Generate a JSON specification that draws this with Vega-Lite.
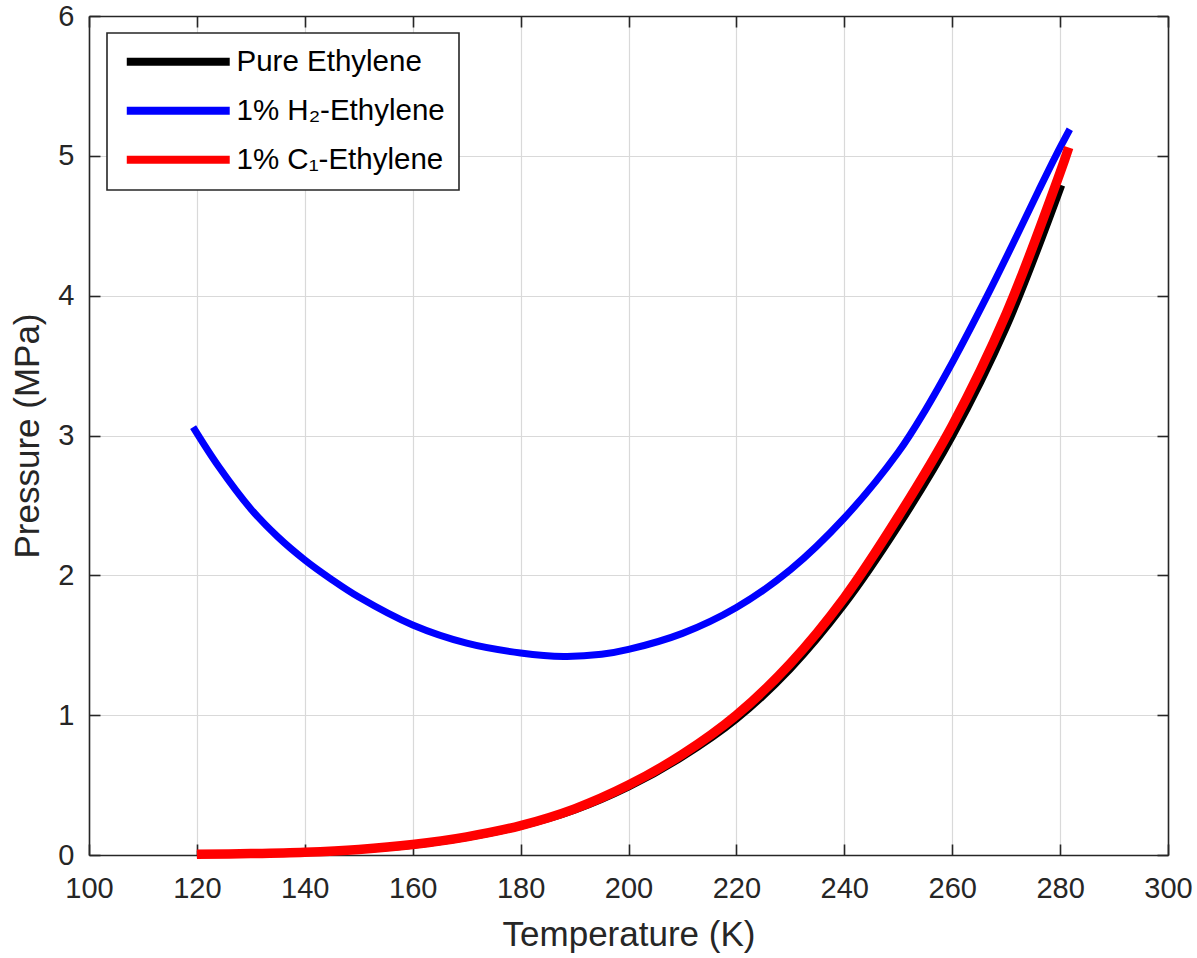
{
  "$schema": "https://vega.github.io/schema/vega-lite/v6.json",
  "width": 1079,
  "height": 839,
  "autosize": {"type": "none"},
  "padding": {"left": 89, "top": 16, "right": 29, "bottom": 103},
  "background": "white",
  "config": {
    "font": "Liberation Sans",
    "view": {"stroke": null},
    "axis": {
      "labelFont": "Liberation Sans",
      "titleFont": "Liberation Sans",
      "labelColor": "#262626",
      "titleColor": "#262626",
      "domainColor": "#262626",
      "tickColor": "#262626",
      "domainWidth": 1.6,
      "tickWidth": 1.6,
      "gridColor": "#d9d9d9",
      "gridWidth": 1.2,
      "labelFontSize": 29,
      "titleFontSize": 35,
      "titleFontWeight": "normal",
      "labelFlush": false
    }
  },
  "datasets": {
    "curves": [
      {"series": "Pure Ethylene", "T": 120, "P": 0.004},
      {"series": "Pure Ethylene", "T": 130, "P": 0.009},
      {"series": "Pure Ethylene", "T": 140, "P": 0.018},
      {"series": "Pure Ethylene", "T": 150, "P": 0.037},
      {"series": "Pure Ethylene", "T": 160, "P": 0.07},
      {"series": "Pure Ethylene", "T": 170, "P": 0.125},
      {"series": "Pure Ethylene", "T": 180, "P": 0.205},
      {"series": "Pure Ethylene", "T": 190, "P": 0.32},
      {"series": "Pure Ethylene", "T": 200, "P": 0.485},
      {"series": "Pure Ethylene", "T": 210, "P": 0.7},
      {"series": "Pure Ethylene", "T": 220, "P": 0.97},
      {"series": "Pure Ethylene", "T": 230, "P": 1.33},
      {"series": "Pure Ethylene", "T": 240, "P": 1.79},
      {"series": "Pure Ethylene", "T": 250, "P": 2.35},
      {"series": "Pure Ethylene", "T": 260, "P": 2.99},
      {"series": "Pure Ethylene", "T": 270, "P": 3.77},
      {"series": "Pure Ethylene", "T": 280.3, "P": 4.79},
      {"series": "1% H₂-Ethylene", "T": 119.3, "P": 3.06},
      {"series": "1% H₂-Ethylene", "T": 124, "P": 2.78},
      {"series": "1% H₂-Ethylene", "T": 130, "P": 2.475},
      {"series": "1% H₂-Ethylene", "T": 135, "P": 2.275},
      {"series": "1% H₂-Ethylene", "T": 140, "P": 2.11},
      {"series": "1% H₂-Ethylene", "T": 145, "P": 1.97},
      {"series": "1% H₂-Ethylene", "T": 150, "P": 1.845},
      {"series": "1% H₂-Ethylene", "T": 160, "P": 1.645},
      {"series": "1% H₂-Ethylene", "T": 170, "P": 1.515},
      {"series": "1% H₂-Ethylene", "T": 180, "P": 1.445},
      {"series": "1% H₂-Ethylene", "T": 188, "P": 1.42},
      {"series": "1% H₂-Ethylene", "T": 195, "P": 1.435},
      {"series": "1% H₂-Ethylene", "T": 200, "P": 1.47},
      {"series": "1% H₂-Ethylene", "T": 210, "P": 1.585},
      {"series": "1% H₂-Ethylene", "T": 220, "P": 1.77},
      {"series": "1% H₂-Ethylene", "T": 230, "P": 2.04},
      {"series": "1% H₂-Ethylene", "T": 240, "P": 2.41},
      {"series": "1% H₂-Ethylene", "T": 250, "P": 2.88},
      {"series": "1% H₂-Ethylene", "T": 255, "P": 3.18},
      {"series": "1% H₂-Ethylene", "T": 260, "P": 3.52},
      {"series": "1% H₂-Ethylene", "T": 266.5, "P": 4.0},
      {"series": "1% H₂-Ethylene", "T": 272, "P": 4.43},
      {"series": "1% H₂-Ethylene", "T": 276, "P": 4.75},
      {"series": "1% H₂-Ethylene", "T": 279.2, "P": 5.0},
      {"series": "1% H₂-Ethylene", "T": 281.8, "P": 5.19},
      {"series": "1% C₁-Ethylene", "T": 120, "P": 0.005},
      {"series": "1% C₁-Ethylene", "T": 130, "P": 0.01},
      {"series": "1% C₁-Ethylene", "T": 140, "P": 0.02},
      {"series": "1% C₁-Ethylene", "T": 150, "P": 0.04},
      {"series": "1% C₁-Ethylene", "T": 160, "P": 0.075},
      {"series": "1% C₁-Ethylene", "T": 170, "P": 0.13},
      {"series": "1% C₁-Ethylene", "T": 180, "P": 0.21},
      {"series": "1% C₁-Ethylene", "T": 190, "P": 0.33},
      {"series": "1% C₁-Ethylene", "T": 200, "P": 0.5},
      {"series": "1% C₁-Ethylene", "T": 210, "P": 0.72},
      {"series": "1% C₁-Ethylene", "T": 220, "P": 1.0},
      {"series": "1% C₁-Ethylene", "T": 230, "P": 1.37},
      {"series": "1% C₁-Ethylene", "T": 240, "P": 1.84},
      {"series": "1% C₁-Ethylene", "T": 250, "P": 2.42},
      {"series": "1% C₁-Ethylene", "T": 260, "P": 3.07},
      {"series": "1% C₁-Ethylene", "T": 270, "P": 3.87},
      {"series": "1% C₁-Ethylene", "T": 280, "P": 4.88},
      {"series": "1% C₁-Ethylene", "T": 281.6, "P": 5.06}
    ]
  },
  "data": {"name": "curves"},
  "encoding": {
    "color": {
      "field": "series", "type": "nominal",
      "scale": {"domain": ["Pure Ethylene", "1% H₂-Ethylene", "1% C₁-Ethylene"], "range": ["#000000", "#0000ff", "#ff0000"]},
      "legend": {
        "title": null,
        "orient": "none",
        "legendX": 18,
        "legendY": 17,
        "symbolType": "M-5,0H5",
        "symbolSize": 424,
        "symbolStrokeWidth": 8,
        "symbolOffset": 42.5,
        "labelFontSize": 29.5,
        "labelColor": "#000000",
        "labelFont": "Liberation Sans",
        "labelOffset": 43.5,
        "rowPadding": 16,
        "padding": 14,
        "strokeColor": "#262626",
        "fillColor": "white",
        "labelLimit": 400,
        "encode": {"legend": {"update": {"strokeWidth": {"value": 1.6}}}}
      }
    }
  },
  "layer": [
    {
      "transform": [{"filter": "datum.series === 'Pure Ethylene'"}],
      "mark": {"type": "line", "strokeWidth": 7, "interpolate": "catmull-rom", "strokeCap": "butt"},
      "encoding": {
        "x": {
          "field": "T", "type": "quantitative",
          "scale": {"domain": [100, 300], "nice": false, "zero": false},
          "axis": {"title": "Temperature (K)", "values": [100,120,140,160,180,200,220,240,260,280,300], "tickSize": -11, "labelPadding": 30, "titlePadding": 14, "grid": true, "labelFlush": false}
        },
        "y": {
          "field": "P", "type": "quantitative",
          "scale": {"domain": [0, 6], "nice": false},
          "axis": {"title": "Pressure (MPa)", "values": [0,1,2,3,4,5,6], "tickSize": -11, "labelPadding": 26, "titlePadding": 12, "grid": true, "labelFlush": false}
        }
      }
    },
    {
      "transform": [{"filter": "datum.series === '1% H₂-Ethylene'"}],
      "mark": {"type": "line", "strokeWidth": 7, "interpolate": "catmull-rom", "strokeCap": "butt"},
      "encoding": {
        "x": {"field": "T", "type": "quantitative", "axis": null},
        "y": {"field": "P", "type": "quantitative", "axis": null}
      }
    },
    {
      "transform": [{"filter": "datum.series === '1% C₁-Ethylene'"}],
      "mark": {"type": "line", "strokeWidth": 9.5, "interpolate": "catmull-rom", "strokeCap": "butt"},
      "encoding": {
        "x": {"field": "T", "type": "quantitative", "axis": null},
        "y": {"field": "P", "type": "quantitative", "axis": null}
      }
    },
    {
      "mark": {"type": "rule", "opacity": 0},
      "encoding": {
        "x": {"field": "T", "type": "quantitative", "axis": {"orient": "top", "title": null, "labels": false, "grid": false, "values": [100,120,140,160,180,200,220,240,260,280,300], "tickSize": -11}},
        "y": {"field": "P", "type": "quantitative", "axis": {"orient": "right", "title": null, "labels": false, "grid": false, "values": [0,1,2,3,4,5,6], "tickSize": -11}},
        "color": {"value": "white"}
      }
    }
  ],
  "resolve": {"axis": {"x": "independent", "y": "independent"}}
}
